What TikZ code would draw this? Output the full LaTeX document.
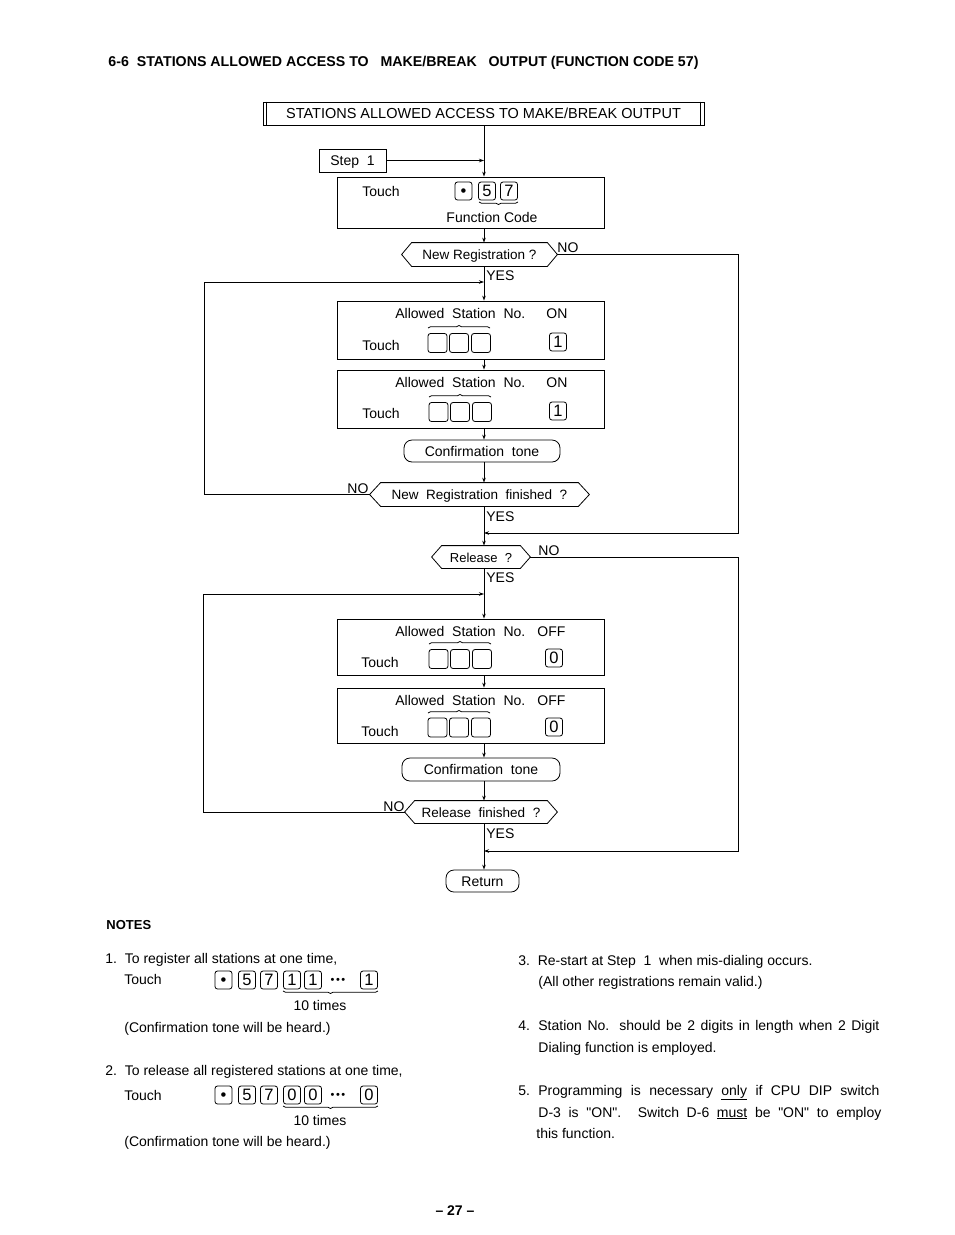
\documentclass[tikz,border=0pt]{standalone}
\usepackage{fontspec}
\setmainfont{Liberation Sans}[Ligatures=TeXOff]
\usetikzlibrary{arrows.meta,decorations.pathreplacing,calc}
\newcommand\myfs[1]{\fontsize{#1}{#1}\selectfont}
\newcommand\hexdraw[2]{\draw (#1.west) -- ([xshift=#2]#1.north west) -- ([xshift=-#2]#1.north east) -- (#1.east) -- ([xshift=-#2]#1.south east) -- ([xshift=#2]#1.south west) -- cycle;}
\newcommand\kbul{\textbullet}
\begin{document}
\begin{tikzpicture}[x=1pt,y=-1pt,line width=0.8pt,
  every node/.style={inner sep=0pt,font=\myfs{14}},
  txt/.style={anchor=base west},
  ctxt/.style={anchor=base},
  capht/.style={text height=10pt,text depth=0pt},
  procbox/.style={draw,minimum width=267pt},
  keyb/.style={draw,rounded corners=2.5pt,minimum width=17pt,minimum height=18pt,font=\myfs{16.5},text height=11.8pt,text depth=0pt},
  blank/.style={draw,rounded corners=2.5pt,minimum width=19pt,minimum height=19pt},
  term/.style={draw,capht,rounded corners=8pt,minimum height=22pt},
  dec/.style={capht,minimum height=23pt},
  arr/.style={-{Stealth[length=5pt,width=3.5pt]}},
  obrace/.style={decorate,decoration={brace,amplitude=2.5pt}},
  ubrace/.style={decorate,decoration={brace,amplitude=2.5pt,mirror}}]
\fill[white] (0,0) rectangle (954,1235);
\useasboundingbox (0,0) rectangle (954,1235);

% title
\node[txt,font=\bfseries\myfs{14.2}] (title) at (108,66) {6-6\ \ STATIONS ALLOWED ACCESS TO\ \ \ MAKE/BREAK\ \ \ OUTPUT (FUNCTION CODE 57)};

\coordinate (mx) at (484,0);

% top box
\node[draw,capht,minimum width=441pt,minimum height=23pt,font=\myfs{14.5}] (tb) at (483.5,113.5) {STATIONS ALLOWED ACCESS TO MAKE/BREAK OUTPUT};
\draw ([xshift=4pt]tb.north west) -- ([xshift=4pt]tb.south west);
\draw ([xshift=-4pt]tb.north east) -- ([xshift=-4pt]tb.south east);

% step 1
\node[draw,capht,minimum width=67pt,minimum height=23pt] (s1) at (352.5,160.5) {Step\ \ 1};

% function code box
\node[procbox,minimum height=51pt] (fn) at (470.5,202.5) {};
\node[txt] (fnt) at (362,196) {Touch};
\node[keyb] (fk1) at (463.5,191) {\kbul};
\node[keyb] (fk2) at (487,191) {5};
\node[keyb] (fk3) at (509,191) {7};
\draw[ubrace] (479,202) -- (518,202);
\node[ctxt] (fc) at (492,222) {Function Code};

\draw[arr] (tb.south -| mx) -- (fn.north -| mx);
\draw[arr] (s1.east) -- (s1.east -| mx);

% decision 1
\node[dec,minimum width=155pt,font=\myfs{13.5}] (d1) at (479.5,254.5) {New Registration ?};
\hexdraw{d1}{10pt}
\node[txt] (no1) at (557,252) {NO};
\node[txt] (yes1) at (486,280) {YES};

% A1
\node[procbox,minimum height=58pt] (a1) at (470.5,330) {};
\node[txt] (a1t) at (395,318) {Allowed\ \ Station\ \ No.};
\node[txt] (a1o) at (546,318) {ON};
\node[txt] (a1u) at (362,350) {Touch};
\node[blank] (a1b1) at (437.5,343) {};
\node[blank] (a1b2) at (459,343) {};
\node[blank] (a1b3) at (481,343) {};
\draw[obrace] (428,328) -- (490,328);
\node[keyb] (a1k) at (558,342) {1};

% A2
\node[procbox,minimum height=58pt] (a2) at (470.5,399) {};
\node[txt] (a2t) at (395,387) {Allowed\ \ Station\ \ No.};
\node[txt] (a2o) at (546,387) {ON};
\node[txt] (a2u) at (362,418) {Touch};
\node[blank] (a2b1) at (438.5,412) {};
\node[blank] (a2b2) at (460,412) {};
\node[blank] (a2b3) at (482,412) {};
\draw[obrace] (429,397) -- (491,397);
\node[keyb] (a2k) at (558,411) {1};

% confirmation 1
\node[term,minimum width=156pt] (c1) at (482,451) {Confirmation\ \ tone};

% decision 2
\node[dec,minimum width=219pt,font=\myfs{13.5}] (d2) at (479.5,494.5) {New\ \ Registration\ \ finished\ \ ?};
\hexdraw{d2}{11pt}
\node[txt] (no2) at (347,493) {NO};
\node[txt] (yes2) at (486,521) {YES};

% decision 3
\node[dec,minimum width=98pt,minimum height=22pt,font=\myfs{13}] (d3) at (481,557) {Release\ \ ?};
\hexdraw{d3}{10pt}
\node[txt] (no3) at (538,555) {NO};
\node[txt] (yes3) at (486,582) {YES};

% B1
\node[procbox,minimum height=56pt] (b1) at (470.5,647) {};
\node[txt] (b1t) at (395,636) {Allowed\ \ Station\ \ No.};
\node[txt] (b1o) at (537,636) {OFF};
\node[txt] (b1u) at (361,667) {Touch};
\node[blank] (b1b1) at (438.5,659) {};
\node[blank] (b1b2) at (460,659) {};
\node[blank] (b1b3) at (482,659) {};
\draw[obrace] (429,644) -- (491,644);
\node[keyb] (b1k) at (554,658) {0};

% B2
\node[procbox,minimum height=55pt] (b2) at (470.5,715.5) {};
\node[txt] (b2t) at (395,705) {Allowed\ \ Station\ \ No.};
\node[txt] (b2o) at (537,705) {OFF};
\node[txt] (b2u) at (361,736) {Touch};
\node[blank] (b2b1) at (437.5,727.5) {};
\node[blank] (b2b2) at (459,727.5) {};
\node[blank] (b2b3) at (481,727.5) {};
\draw[obrace] (428,713) -- (490,713);
\node[keyb] (b2k) at (554,727) {0};

% confirmation 2
\node[term,minimum width=158pt,minimum height=23pt] (c2) at (481,769.5) {Confirmation\ \ tone};

% decision 4
\node[dec,minimum width=152pt,minimum height=22pt,font=\myfs{13.5}] (d4) at (481,812) {Release\ \ finished\ \ ?};
\hexdraw{d4}{10pt}
\node[txt] (no4) at (383,811) {NO};
\node[txt] (yes4) at (486,838) {YES};

% return
\node[term,minimum width=73pt] (ret) at (482.5,881) {Return};

% junction coordinates
\coordinate (j1) at (484,282);
\coordinate (L1) at (204,282);
\coordinate (j2) at (484,533);
\coordinate (R1) at (738,533);
\coordinate (j3) at (484,594);
\coordinate (L2) at (203,594);
\coordinate (j4) at (484,851);
\coordinate (R2) at (738,851);

% connectors
\draw[arr] (fn.south -| mx) -- (d1.north -| mx);
\draw[arr] (d1.south -| mx) -- (a1.north -| mx);
\draw[arr] (a1.south -| mx) -- (a2.north -| mx);
\draw[arr] (a2.south -| mx) -- (c1.north -| mx);
\draw[arr] (c1.south -| mx) -- (d2.north -| mx);
\draw[arr] (d2.west) -| (L1) -- (j1);
\draw[arr] (d1.east) -| (R1) -- (j2);
\draw[arr] (d2.south -| mx) -- (d3.north -| mx);
\draw[arr] (d3.east) -| (R2) -- (j4);
\draw[arr] (d3.south -| mx) -- (b1.north -| mx);
\draw[arr] (b1.south -| mx) -- (b2.north -| mx);
\draw[arr] (b2.south -| mx) -- (c2.north -| mx);
\draw[arr] (c2.south -| mx) -- (d4.north -| mx);
\draw[arr] (d4.west) -| (L2) -- (j3);
\draw[arr] (d4.south -| mx) -- (ret.north -| mx);

% notes
\node[txt,font=\bfseries\myfs{13}] (notes) at (106,929) {NOTES};
\node[txt] (n1) at (105,963) {1.\ \ To register all stations at one time,};
\node[txt] (n1t) at (124,984) {Touch};
\node[keyb] (n1k1) at (223.5,980) {\kbul};
\node[keyb] (n1k2) at (247,980) {5};
\node[keyb] (n1k3) at (269,980) {7};
\node[keyb] (n1k4) at (292,980) {1};
\node[keyb] (n1k5) at (313,980) {1};
\node[font=\myfs{11}] (n1d) at (338,981) {\textbullet\kern1.5pt\textbullet\kern1.5pt\textbullet};
\node[keyb] (n1k6) at (369,980) {1};
\draw[ubrace] (283,991) -- (378,991);
\node[ctxt] (n1x) at (320,1010) {10 times};
\node[txt] (n1c) at (124,1032) {(Confirmation tone will be heard.)};

\node[txt] (n2) at (105,1075) {2.\ \ To release all registered stations at one time,};
\node[txt] (n2t) at (124,1100) {Touch};
\node[keyb] (n2k1) at (223.5,1095) {\kbul};
\node[keyb] (n2k2) at (247,1095) {5};
\node[keyb] (n2k3) at (269,1095) {7};
\node[keyb] (n2k4) at (292,1095) {0};
\node[keyb] (n2k5) at (313,1095) {0};
\node[font=\myfs{11}] (n2d) at (338,1096) {\textbullet\kern1.5pt\textbullet\kern1.5pt\textbullet};
\node[keyb] (n2k6) at (369,1095) {0};
\draw[ubrace] (283,1106) -- (378,1106);
\node[ctxt] (n2x) at (320,1125) {10 times};
\node[txt] (n2c) at (124,1146) {(Confirmation tone will be heard.)};

\node[txt] (n3) at (518,965) {3.\ \ Re-start at Step\ \ 1\ \ when mis-dialing occurs.};
\node[txt] (n3b) at (538,986) {(All other registrations remain valid.)};
\node[txt] (n4n) at (518,1030) {4.};
\node[txt] (n4) at (538,1030) {\makebox[341pt][s]{Station No. should be 2 digits in length when 2 Digit}};
\node[txt] (n4b) at (538,1052) {Dialing function is employed.};
\node[txt] (n5n) at (518,1095) {5.};
\node[txt] (n5) at (538,1095) {\makebox[341pt][s]{Programming is necessary \underline{only} if CPU DIP switch}};
\node[txt] (n5b) at (538,1117) {\makebox[343pt][s]{D-3 is "ON". Switch D-6 \underline{must} be "ON" to employ}};
\node[txt] (n5c) at (536,1138) {this function.};

\node[ctxt,font=\bfseries\myfs{14}] (pg) at (455,1215) {– 27 –};
\end{tikzpicture}
\end{document}
